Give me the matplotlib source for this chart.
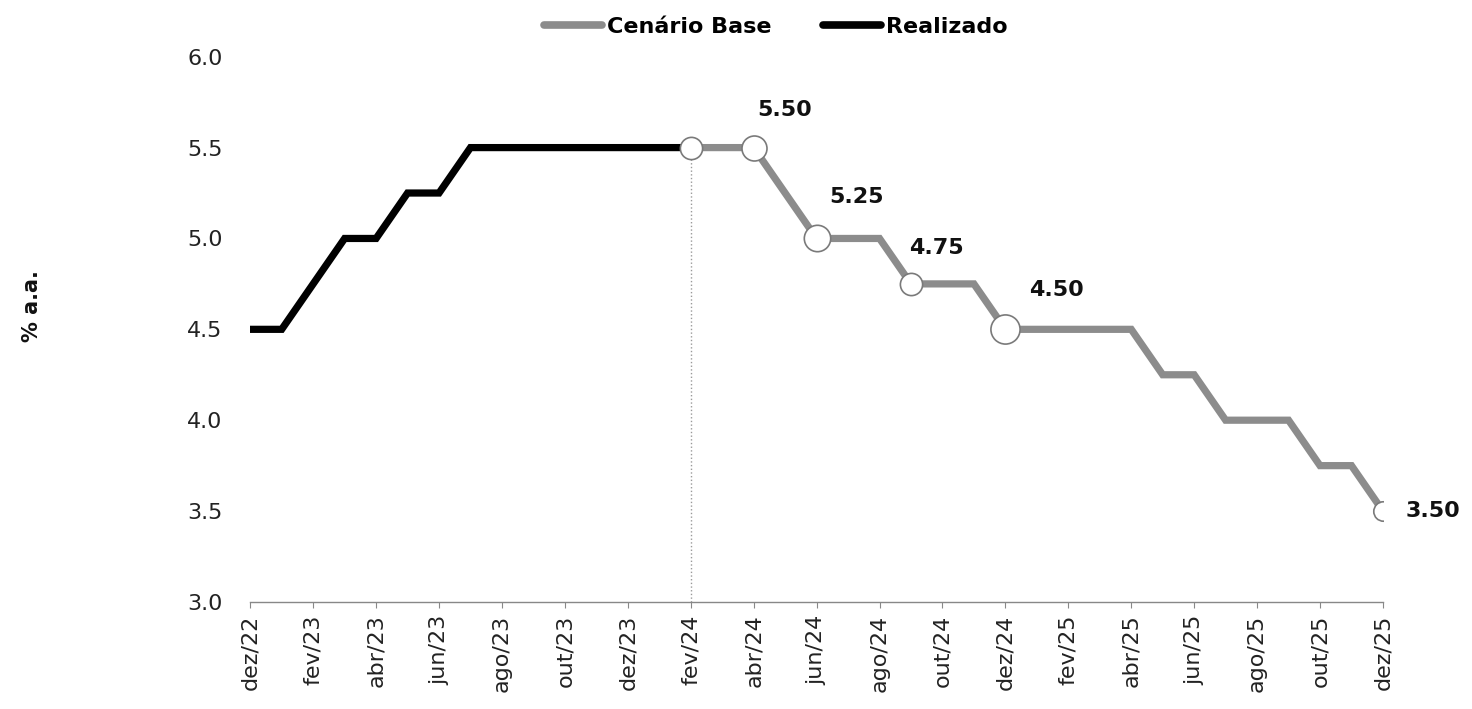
import numpy as np
import matplotlib.pyplot as plt
from matplotlib.lines import Line2D

plt.rcParams['font.family'] = ['DejaVu Sans']

# monthly axis dez/22 .. dez/25
meses = ['dez/22', 'jan/23', 'fev/23', 'mar/23', 'abr/23', 'mai/23', 'jun/23', 'jul/23', 'ago/23',
         'set/23', 'out/23', 'nov/23', 'dez/23', 'jan/24', 'fev/24', 'mar/24', 'abr/24', 'mai/24',
         'jun/24', 'jul/24', 'ago/24', 'set/24', 'out/24', 'nov/24', 'dez/24', 'jan/25', 'fev/25',
         'mar/25', 'abr/25', 'mai/25', 'jun/25', 'jul/25', 'ago/25', 'set/25', 'out/25', 'nov/25',
         'dez/25']

# realizado: dez/22 .. fev/24
realizado = [4.5, 4.5, 4.75, 5.0, 5.0, 5.25, 5.25, 5.5, 5.5, 5.5, 5.5, 5.5, 5.5, 5.5, 5.5]
# cenario base: fev/24 .. dez/25
cenario = [5.5, 5.5, 5.5, 5.25, 5.0, 5.0, 5.0, 4.75, 4.75, 4.75, 4.5, 4.5, 4.5, 4.5, 4.5,
           4.25, 4.25, 4.0, 4.0, 4.0, 3.75, 3.75, 3.5]

# highlighted points (month index) and their labels
destaque_idx = [14, 16, 18, 21, 24, 36]
destaque_tam = [16, 18, 19, 16, 21, 14]
rotulos = ['', '5.50', '5.25', '4.75', '4.50', '3.50']
rotulo_off = [(0, 0), (22, 27), (29, 30), (18, 26), (37, 28), (36, 0)]

x_real = np.arange(len(realizado))
x_cen = np.arange(len(realizado) - 1, len(realizado) - 1 + len(cenario))
serie = dict(zip(x_real, realizado))
serie.update(dict(zip(x_cen, cenario)))

cinza = '#8c8c8c'

fig = plt.figure(figsize=(14.72, 7.09), dpi=100)
ax = fig.add_axes([0.170, 0.151, 0.7695, 0.769])

ax.plot([14, 14], [3.0, 5.5], ls=':', color='#9a9a9a', lw=1, zorder=1)
ax.plot(x_cen, cenario, color=cinza, lw=5.2, solid_joinstyle='miter', zorder=2)
ax.plot(x_real, realizado, color='black', lw=5.2, solid_joinstyle='miter', zorder=3)

for i, s, lab, off in zip(destaque_idx, destaque_tam, rotulos, rotulo_off):
    ax.plot(i, serie[i], 'o', ms=s, mfc='white', mec='#7a7a7a', mew=1.2, zorder=5)
    if lab:
        ax.annotate(lab, (i, serie[i]), xytext=off, textcoords='offset points',
                    ha='center', va='center', fontsize=16, fontweight='bold', color='#111111')

ax.set_xlim(0, 36)
ax.set_ylim(3.0, 6.0)
ax.set_yticks(np.arange(3.0, 6.01, 0.5))
ax.set_yticklabels(['%.1f' % v for v in np.arange(3.0, 6.01, 0.5)])
ax.set_xticks(np.arange(0, 37, 2))
ax.set_xticklabels(meses[::2], rotation=90)

for s in ['top', 'right', 'left']:
    ax.spines[s].set_visible(False)
ax.spines['bottom'].set_color('#888888')
ax.spines['bottom'].set_linewidth(1)
ax.tick_params(axis='y', length=0, pad=20, labelsize=16, labelcolor='#222222')
ax.tick_params(axis='x', length=4, color='#888888', labelsize=16, labelcolor='#222222', pad=5)

fig.text(0.022, 0.568, '% a.a.', rotation=90, ha='center', va='center',
         fontsize=15, fontweight='bold', color='#111111')

handles = [Line2D([], [], color=cinza, lw=5.5, solid_capstyle='round'),
           Line2D([], [], color='black', lw=5.5, solid_capstyle='round')]
fig.legend(handles, ['Cenário Base', 'Realizado'], loc='center', bbox_to_anchor=(0.527, 0.962),
           ncol=2, frameon=False, prop={'size': 16, 'weight': 'bold'},
           handlelength=2.6, handletextpad=0.25, columnspacing=2.3)

fig.savefig('out.png', dpi=100)
